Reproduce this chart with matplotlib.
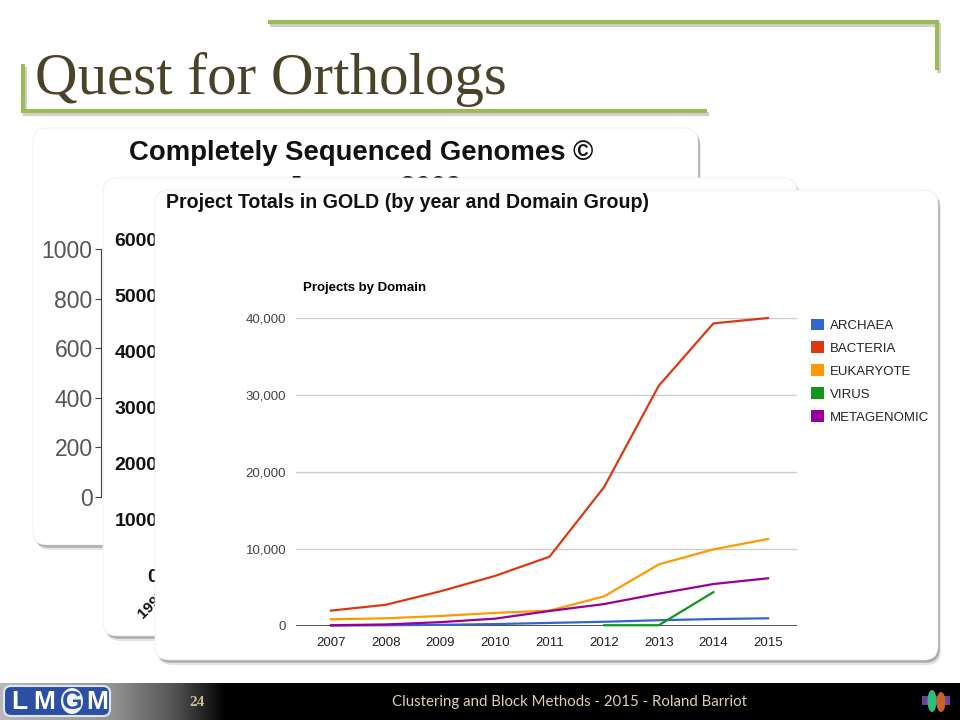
import numpy as np
import matplotlib
matplotlib.use("Agg")
import matplotlib.pyplot as plt
from matplotlib.patches import FancyBboxPatch, Patch, Ellipse, Rectangle

# data for the front chart (Projects by Domain)
years = [2007, 2008, 2009, 2010, 2011, 2012, 2013, 2014, 2015]
archaea = [50, 100, 150, 250, 400, 550, 750, 900, 1000]
bacteria = [2000, 2750, 4500, 6500, 9000, 18050, 31200, 39300, 40000]
eukaryote = [870, 1000, 1300, 1700, 2000, 3850, 8000, 9950, 11300]
virus = [np.nan, np.nan, np.nan, np.nan, np.nan, 100, 100, 4400, np.nan]
metagenomic = [100, 200, 500, 950, 1950, 2850, 4200, 5450, 6200]
series_names = ["ARCHAEA", "BACTERIA", "EUKARYOTE", "VIRUS", "METAGENOMIC"]
series_colors = ["#3366cc", "#dc3912", "#ff9900", "#109618", "#990099"]
y_ticks = [0, 10000, 20000, 30000, 40000]

# tick labels of the two charts stacked behind
back1_ticks = [0, 200, 400, 600, 800, 1000]
back2_ticks = [0, 1000, 2000, 3000, 4000, 5000, 6000]

W, H = 960, 720
fig = plt.figure(figsize=(9.6, 7.2), dpi=100)
fig.patch.set_facecolor("white")


def px_axes(x0, y0, x1, y1, **kw):
    # axes placed by pixel box (top-left origin)
    return fig.add_axes([x0 / W, 1 - y1 / H, (x1 - x0) / W, (y1 - y0) / H], **kw)


def overlay():
    a = px_axes(0, 0, W, H)
    a.set_xlim(0, W)
    a.set_ylim(H, 0)
    a.axis("off")
    a.patch.set_alpha(0)
    return a


def card(a, x0, y0, x1, y1):
    for dx, dy, al in [(3, 5, 0.10), (2, 3, 0.18), (1, 1.5, 0.18)]:
        a.add_patch(FancyBboxPatch((x0 + dx, y0 + dy), x1 - x0, y1 - y0,
                                   boxstyle="round,pad=0,rounding_size=14",
                                   fc="black", ec="none", alpha=al))
    a.add_patch(FancyBboxPatch((x0, y0), x1 - x0, y1 - y0,
                               boxstyle="round,pad=0,rounding_size=14",
                               fc="white", ec="#eeeeee", lw=0.6))


# ---- slide background: title, green brackets, footer ----
bg = overlay()
green = "#9bbb59"
for dx, dy, col, al in [(1.5, 2.5, "#777777", 0.35), (0, 0, green, 1)]:
    bg.plot(np.array([268, 937, 937]) + dx, np.array([22, 22, 70]) + dy,
            color=col, lw=3, alpha=al, solid_capstyle="butt", solid_joinstyle="miter")
    bg.plot(np.array([23, 23, 707]) + dx, np.array([64, 111, 111]) + dy,
            color=col, lw=3, alpha=al, solid_capstyle="butt", solid_joinstyle="miter")
bg.text(35, 94, "Quest for Orthologs", family="Liberation Serif", fontsize=42.5,
        color="#4b4329", va="baseline", ha="left")

# footer bar
bg.add_patch(Rectangle((0, 683), W, 37, fc="black", ec="none"))
grad = np.interp(np.arange(230), [0, 110, 175, 225], [0.72, 0.58, 0.32, 0.0])
bg.imshow(np.tile(grad, (2, 1)), cmap="gray", vmin=0, vmax=1,
          extent=(0, 230, 720, 683), aspect="auto", zorder=1)
bg.add_patch(FancyBboxPatch((4, 686), 106, 30, boxstyle="round,pad=0,rounding_size=7",
                            fc="#2b4fa3", ec="#dfe6f3", lw=1.5, zorder=2))
bg.add_patch(Ellipse((72, 701), 22, 26, fc="#eef2f8", ec="none", zorder=3))
for lx, ch, col in [(19, "L", "white"), (44, "M", "white"), (72, "G", "#2b4fa3"),
                    (97, "M", "white")]:
    bg.text(lx, 702, ch, color=col, fontsize=19, weight="bold", family="Liberation Sans",
            va="center", ha="center", zorder=4)
bg.text(197, 703, "24", color="#cbbd93", fontsize=11, weight="bold",
        family="Liberation Serif", va="center", ha="center", zorder=4)
bg.text(569, 702, "Clustering and Block Methods - 2015 - Roland Barriot", color="#dcd1ad",
        fontsize=10.8, family="Lato", va="center", ha="center", zorder=4)
bg.add_patch(Rectangle((922, 696), 28, 9, fc="#6a3fa0", ec="none", zorder=3))
bg.add_patch(Ellipse((932, 701), 9, 22, fc="#2fbf7a", ec="none", zorder=4))
bg.add_patch(Ellipse((941, 702), 9, 20, fc="#c8642a", ec="none", zorder=4))

# ---- card 1: Completely Sequenced Genomes ----
card(bg, 33, 128, 698, 545)
bg.text(129, 160, "Completely Sequenced Genomes \u00a9", fontsize=19.8, weight="bold",
        family="Liberation Sans", color="#111111", va="baseline", ha="left", zorder=5)
bg.text(287, 195, "January 2009", fontsize=19.8, weight="bold",
        family="Liberation Sans", color="#111111", va="baseline", ha="left", zorder=5)
ax1 = px_axes(101, 249, 200, 497)
ax1.patch.set_alpha(0)
ax1.set_ylim(0, 1000)
ax1.set_yticks(back1_ticks)
ax1.set_xticks([])
for s in ["top", "right", "bottom"]:
    ax1.spines[s].set_visible(False)
ax1.spines["left"].set_color("#444444")
ax1.tick_params(axis="y", length=4, width=0.8, color="#444444", labelcolor="#555555",
                labelsize=16.5, pad=2)
for t in ax1.get_yticklabels():
    t.set_family("Liberation Sans")

# ---- card 2: chart behind ----
l2 = overlay()
card(l2, 103, 178, 797, 636)
ax2 = px_axes(162, 239, 262, 576)
ax2.patch.set_alpha(0)
ax2.set_ylim(0, 6000)
ax2.set_yticks(back2_ticks)
ax2.set_xlim(0, 100)
ax2.set_xticks([7])
ax2.set_xticklabels(["1995"], rotation=45, ha="right", va="top")
for s in ax2.spines.values():
    s.set_visible(False)
ax2.tick_params(length=0, labelsize=14, labelcolor="#111111", pad=3)
for t in ax2.get_yticklabels() + ax2.get_xticklabels():
    t.set_family("Liberation Sans")
    t.set_weight("bold")
ax2.tick_params(axis="x", labelsize=11, pad=8)

# ---- card 3: Project Totals in GOLD / Projects by Domain ----
l3 = overlay()
card(l3, 155, 190, 938, 660)
l3.text(166, 208, "Project Totals in GOLD (by year and Domain Group)", fontsize=14.1,
        weight="bold", family="Liberation Sans", color="#111111", va="baseline", ha="left")
l3.text(303, 291, "Projects by Domain", fontsize=9.5, weight="bold",
        family="Liberation Sans", color="black", va="baseline", ha="left")

ax = px_axes(296, 318, 797, 626)
ax.patch.set_alpha(0)
all_series = [archaea, bacteria, eukaryote, virus, metagenomic]
for vals, col in zip(all_series, series_colors):
    ax.plot(years, vals, color=col, lw=1.6, clip_on=False, zorder=3)
ax.set_xlim(2006.36, 2015.53)
ax.set_ylim(0, 40000)
ax.set_yticks(y_ticks)
ax.set_yticklabels([f"{v:,}" for v in y_ticks])
ax.set_xticks(years)
ax.set_xticklabels([str(y) for y in years])
ax.grid(axis="y", color="#cccccc", lw=1)
ax.axhline(0, color="#333333", lw=1.2, zorder=2)
for s in ax.spines.values():
    s.set_visible(False)
ax.tick_params(length=0, labelsize=9.5)
ax.tick_params(axis="y", labelcolor="#444444", pad=7)
ax.tick_params(axis="x", labelcolor="#222222", pad=8)
for t in ax.get_yticklabels() + ax.get_xticklabels():
    t.set_family("Liberation Sans")

handles = [Patch(fc=c, ec="none") for c in series_colors]
leg = ax.legend(handles, series_names, loc="upper left", bbox_to_anchor=(800, 308),
                bbox_transform=l3.transData, frameon=False, handlelength=1.0,
                handleheight=1.0, handletextpad=0.45, labelspacing=0.72,
                borderpad=0.3, prop={"family": "Liberation Sans", "size": 9.5})
for t in leg.get_texts():
    t.set_color("#222222")

fig.savefig("out.png", dpi=100)
